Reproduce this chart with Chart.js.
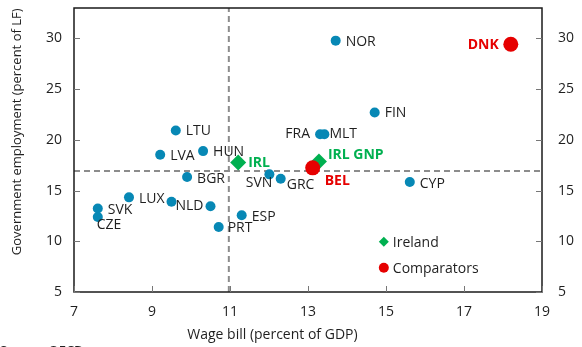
<!DOCTYPE html>
<html>
<head>
<meta charset="utf-8">
<script src="https://cdn.jsdelivr.net/npm/chart.js@4.4.0/dist/chart.umd.min.js"></script>
<style>
  body { margin: 0; background: #fff; }
  #wrap { width: 582px; height: 347px; }
</style>
</head>
<body>
<div id="wrap"><canvas id="wageChart" width="582" height="347"></canvas></div>
<script>
// Axis ticks
const xTicks = [7, 9, 11, 13, 15, 17, 19];
const yTicks = [5, 10, 15, 20, 25, 30];

// Other countries (teal dots)
const peerNames = ['NOR', 'FIN', 'FRA', 'MLT', 'LTU', 'LVA', 'HUN', 'BGR', 'SVN', 'GRC',
                   'CYP', 'LUX', '', 'NLD', 'SVK', 'CZE', 'ESP', 'PRT'];
const peerWage  = [13.71, 14.71, 13.31, 13.42, 9.61, 9.21, 10.31, 9.9, 12.01, 12.3,
                   15.61, 8.41, 9.5, 10.5, 7.61, 7.61, 11.3, 10.71];
const peerEmp   = [29.78, 22.7, 20.55, 20.55, 20.92, 18.54, 18.89, 16.34, 16.6, 16.17,
                   15.85, 14.33, 13.89, 13.46, 13.24, 12.39, 12.56, 11.4];

// Ireland
const irlNames = ['IRL', 'IRL GNP'];
const irlWage  = [11.21, 13.28];
const irlEmp   = [17.76, 17.86];

// Comparators
const compNames = ['DNK', 'BEL'];
const compWage  = [18.2, 13.12];
const compEmp   = [29.42, 17.24];

// Sample averages (dashed lines)
const avgWage = 10.97;
const avgEmp = 16.92;

const TEAL = '#0788b5';
const GREEN = '#00b050';
const RED = '#e60000';
const TEXT = '#1f1f1f';
const FONT = '"Open Sans", sans-serif';

// label side and nudge next to each point: [align, dx, dy]
const labelPlace = {
    NOR: ['left', 10, 1], FIN: ['left', 10, 1], FRA: ['right', -10, 0], MLT: ['left', 5, 0],
    LTU: ['left', 10, 0], LVA: ['left', 10, 1], HUN: ['left', 10, 1], BGR: ['left', 10, 2],
    SVN: ['right', 3, 9], GRC: ['left', 6, 6], CYP: ['left', 10, 2], LUX: ['left', 10, 2],
    NLD: ['right', -7, 0], SVK: ['left', 10, 2], CZE: ['left', -1, 8], ESP: ['left', 10, 2],
    PRT: ['left', 9, 1], IRL: ['left', 10, 0], 'IRL GNP': ['left', 9, -7],
    DNK: ['right', -12, 1], BEL: ['left', 12, 13]
};

function toPoints(xs, ys) {
    return xs.map((x, i) => ({ x: x, y: ys[i] }));
}

// Country labels beside the markers
const pointLabels = {
    id: 'pointLabels',
    afterDatasetsDraw(chart) {
        const ctx = chart.ctx;
        chart.data.datasets.forEach((ds, di) => {
            if (!ds.names) return;
            const meta = chart.getDatasetMeta(di);
            ctx.save();
            ctx.font = (ds.labelBold ? 'bold ' : '') + '14px ' + FONT;
            ctx.fillStyle = ds.labelColor;
            ctx.textBaseline = 'middle';
            meta.data.forEach((pt, i) => {
                const name = ds.names[i];
                if (!name) return;
                const place = labelPlace[name] || ['left', 10, 0];
                ctx.textAlign = place[0];
                ctx.fillText(name, pt.x + place[1], pt.y + place[2]);
            });
            ctx.restore();
        });
    }
};

// Frame, inward tick marks, axis titles, legend and source line
const decorations = {
    id: 'decorations',
    afterDraw(chart) {
        const ctx = chart.ctx;
        const a = chart.chartArea;
        const sx = chart.scales.x, sy = chart.scales.y;
        ctx.save();

        ctx.strokeStyle = '#1a1a1a';
        ctx.lineWidth = 1.5;
        ctx.strokeRect(a.left, a.top, a.right - a.left, a.bottom - a.top);

        ctx.strokeStyle = '#777';
        ctx.lineWidth = 1;
        ctx.beginPath();
        xTicks.forEach(v => {
            const px = Math.round(sx.getPixelForValue(v)) + 0.5;
            ctx.moveTo(px, a.bottom);
            ctx.lineTo(px, a.bottom - 6);
        });
        yTicks.forEach(v => {
            const py = Math.round(sy.getPixelForValue(v)) + 0.5;
            ctx.moveTo(a.left, py);
            ctx.lineTo(a.left + 6, py);
            ctx.moveTo(a.right, py);
            ctx.lineTo(a.right - 6, py);
        });
        ctx.stroke();

        // axis titles
        ctx.fillStyle = TEXT;
        ctx.font = '14px ' + FONT;
        ctx.textAlign = 'center';
        ctx.textBaseline = 'middle';
        ctx.fillText('Wage bill (percent of GDP)', a.left + (a.right - a.left) * 0.424, 335);
        ctx.save();
        ctx.font = '13px ' + FONT;
        ctx.translate(17, a.top + (a.bottom - a.top) * 0.436);
        ctx.rotate(-Math.PI / 2);
        ctx.fillText('Government employment (percent of LF)', 0, 0);
        ctx.restore();

        // legend
        const lx = a.left + (a.right - a.left) * 0.662;
        const ly = a.top + (a.bottom - a.top) * 0.823;
        ctx.fillStyle = GREEN;
        ctx.beginPath();
        ctx.moveTo(lx, ly - 5);
        ctx.lineTo(lx + 5, ly);
        ctx.lineTo(lx, ly + 5);
        ctx.lineTo(lx - 5, ly);
        ctx.closePath();
        ctx.fill();
        ctx.fillStyle = RED;
        ctx.beginPath();
        ctx.arc(lx, ly + 26, 5, 0, Math.PI * 2);
        ctx.fill();
        ctx.fillStyle = TEXT;
        ctx.textAlign = 'left';
        ctx.fillText('Ireland', lx + 9, ly + 1);
        ctx.fillText('Comparators', lx + 9, ly + 27);

        // source line at the foot
        ctx.font = '13px ' + FONT;
        ctx.textBaseline = 'alphabetic';
        ctx.fillText('Source: OECD.', 0, 355);
        ctx.restore();
    }
};

const tickFont = { family: FONT, size: 14 };

// fixed box sizes, no extra label padding around the plot
function fixWidth(w) {
    return s => { s.width = w; s.paddingTop = 0; s.paddingBottom = 0; };
}

new Chart(document.getElementById('wageChart'), {
    type: 'scatter',
    data: {
        datasets: [
            {
                label: 'Comparators',
                data: toPoints(compWage, compEmp),
                names: compNames,
                labelColor: RED,
                labelBold: true,
                backgroundColor: RED,
                borderWidth: 0,
                pointRadius: 7.5,
                order: 1
            },
            {
                label: 'Ireland',
                data: toPoints(irlWage, irlEmp),
                names: irlNames,
                labelColor: GREEN,
                labelBold: true,
                backgroundColor: GREEN,
                borderWidth: 0,
                pointStyle: 'rectRot',
                pointRadius: 8,
                order: 2
            },
            {
                label: 'Others',
                data: toPoints(peerWage, peerEmp),
                names: peerNames,
                labelColor: TEXT,
                backgroundColor: TEAL,
                borderWidth: 0,
                pointRadius: 5,
                order: 3
            },
            {
                label: 'Average wage bill',
                data: [{ x: avgWage, y: 5 }, { x: avgWage, y: 33 }],
                showLine: true,
                borderColor: '#8c8c8c',
                borderWidth: 2,
                borderDash: [6, 4],
                pointRadius: 0,
                order: 10
            },
            {
                label: 'Average employment',
                data: [{ x: 7, y: avgEmp }, { x: 19, y: avgEmp }],
                showLine: true,
                borderColor: '#8c8c8c',
                borderWidth: 2,
                borderDash: [6, 4],
                pointRadius: 0,
                order: 11
            }
        ]
    },
    options: {
        responsive: false,
        animation: false,
        layout: { padding: { top: 3, left: 0, right: 0, bottom: 0 } },
        plugins: {
            legend: { display: false },
            tooltip: { enabled: false }
        },
        scales: {
            x: {
                type: 'linear',
                min: 7,
                max: 19,
                afterBuildTicks: s => { s.ticks = xTicks.map(v => ({ value: v })); },
                afterFit: s => { s.height = 55; s.paddingLeft = 0; s.paddingRight = 0; },
                ticks: { font: tickFont, color: TEXT, padding: 12, maxRotation: 0 },
                grid: { display: false, drawTicks: false },
                border: { display: false }
            },
            y: {
                type: 'linear',
                position: 'left',
                min: 5,
                max: 33,
                afterBuildTicks: s => { s.ticks = yTicks.map(v => ({ value: v })); },
                afterFit: fixWidth(74),
                ticks: { font: tickFont, color: TEXT, padding: 12 },
                grid: { display: false, drawTicks: false },
                border: { display: false }
            },
            y2: {
                type: 'linear',
                position: 'right',
                min: 5,
                max: 33,
                afterBuildTicks: s => { s.ticks = yTicks.map(v => ({ value: v })); },
                afterFit: fixWidth(40),
                ticks: { font: tickFont, color: TEXT, padding: 16 },
                grid: { display: false, drawTicks: false },
                border: { display: false }
            }
        }
    },
    plugins: [pointLabels, decorations]
});
</script>
</body>
</html>
